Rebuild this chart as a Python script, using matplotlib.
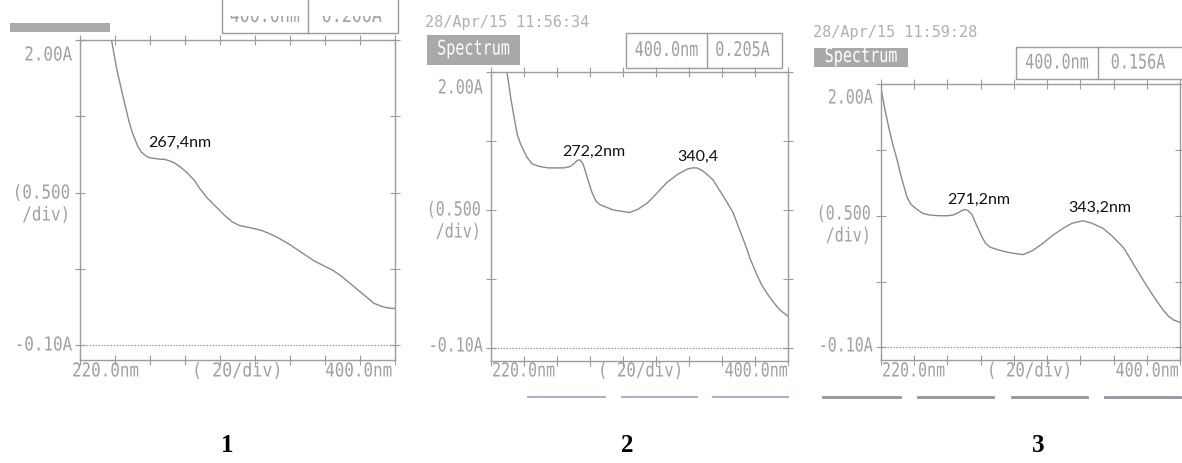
import matplotlib
matplotlib.use("Agg")
import matplotlib.pyplot as plt
from matplotlib.patches import Rectangle
from matplotlib.transforms import Bbox, Affine2D
from matplotlib.lines import Line2D
from matplotlib.text import Text
from matplotlib.patheffects import AbstractPathEffect

W, H = 1182, 463

# ---------------- data ----------------
wl1 = [234, 238, 241, 244.6, 248, 250, 253, 255, 258, 260, 263, 266, 268, 271, 274, 277, 281,
       285, 289, 293, 298, 303, 307, 311, 315, 319, 324, 329, 334, 339, 344, 349, 354, 359,
       364, 369, 374, 379, 384, 388, 392, 395, 398, 400]
abs1 = [2.25, 2.0, 1.80, 1.61, 1.44, 1.36, 1.27, 1.23, 1.20, 1.19, 1.185, 1.18, 1.18, 1.17,
        1.155, 1.13, 1.09, 1.04, 0.97, 0.91, 0.85, 0.79, 0.75, 0.725, 0.715, 0.705, 0.69,
        0.665, 0.635, 0.60, 0.56, 0.52, 0.48, 0.45, 0.42, 0.38, 0.33, 0.28, 0.23, 0.19, 0.17,
        0.16, 0.155, 0.155]

wl2 = [226, 229.7, 232, 234.5, 236, 238, 241.8, 245, 249.7, 255, 260, 264, 267.9, 270, 272.7,
       274, 275.8, 278, 281, 283.5, 286, 290, 294, 299, 304, 309, 314.5, 320, 326.7, 333,
       338.8, 342, 344.8, 348, 351, 354.5, 358, 362, 366.7, 370, 374, 377, 381, 384, 387,
       391, 395, 398, 400]
abs2 = [2.3, 2.0, 1.80, 1.62, 1.52, 1.45, 1.35, 1.30, 1.28, 1.27, 1.27, 1.27, 1.28, 1.30, 1.33,
        1.33, 1.30, 1.21, 1.09, 1.02, 0.99, 0.97, 0.95, 0.94, 0.93, 0.955, 1.00, 1.07, 1.16,
        1.22, 1.26, 1.27, 1.27, 1.25, 1.22, 1.18, 1.11, 1.03, 0.93, 0.82, 0.69, 0.58, 0.46,
        0.38, 0.32, 0.25, 0.19, 0.16, 0.14]

wl3 = [220, 222, 225.4, 227.5, 229.6, 232, 235.6, 238, 241.7, 245, 249.5, 255, 260, 263.3,
       266, 268.5, 270.6, 272.5, 274.8, 277, 280.8, 283, 285.6, 290, 295.9, 300, 305.5, 311,
       317.5, 323, 329.6, 335, 341.6, 347, 353.6, 359, 365.7, 370, 374, 377.7, 382, 386,
       389.8, 393, 396, 400]
abs3 = [1.97, 1.82, 1.61, 1.50, 1.40, 1.27, 1.10, 1.04, 1.00, 0.97, 0.955, 0.95, 0.95, 0.955,
        0.97, 0.99, 1.00, 0.99, 0.96, 0.89, 0.78, 0.73, 0.70, 0.68, 0.66, 0.65, 0.64, 0.67,
        0.73, 0.79, 0.85, 0.89, 0.91, 0.89, 0.85, 0.79, 0.70, 0.61, 0.52, 0.44, 0.35, 0.27,
        0.20, 0.15, 0.12, 0.10]

peak_labels = [["267,4nm"], ["272,2nm", "340,4"], ["271,2nm", "343,2nm"]]
peak_label_pos = [[(258.9, 1.29)], [(263.0, 1.39), (332.7, 1.35)], [(259.7, 1.08), (332.6, 1.01)]]
dates = [None, "28/Apr/15 11:56:34", "28/Apr/15 11:59:28"]
end_values = ["0.200A", "0.205A", "0.156A"]
panel_numbers = ["1", "2", "3"]

x_min, x_max, x_step = 220, 400, 20
y_min_lbl, y_max_lbl = -0.10, 2.00

# ---------------- style ----------------
GRAY_TXT = "#a0a0a0"
GRAY_AX = "#9c9c9c"
GRAY_LINE = "#8a8a8a"
MONO = "DejaVu Sans Mono"


class HSqueeze(AbstractPathEffect):
    """Narrows glyphs horizontally about a fixed x (display px)."""
    def __init__(self, x0, sx):
        super().__init__()
        self.x0 = x0
        self.sx = sx

    def draw_path(self, renderer, gc, tpath, affine, rgbFace=None):
        aff = affine + Affine2D().translate(-self.x0, 0).scale(self.sx, 1).translate(self.x0, 0)
        renderer.draw_path(gc, tpath, aff, rgbFace)


class NarrowText(Text):
    """Text drawn horizontally condensed; reports its condensed extent."""
    def __init__(self, *args, sq_x0=0.0, sq_sx=1.0, **kwargs):
        super().__init__(*args, **kwargs)
        self._sq_x0 = sq_x0
        self._sq_sx = sq_sx
        self.set_path_effects([HSqueeze(sq_x0, sq_sx)])

    def get_window_extent(self, renderer=None, dpi=None):
        bb = super().get_window_extent(renderer, dpi)
        x0, s = self._sq_x0, self._sq_sx
        return Bbox.from_extents(x0 + (bb.x0 - x0) * s, bb.y0, x0 + (bb.x1 - x0) * s, bb.y1)


fig = plt.figure(figsize=(W / 100, H / 100), dpi=100)
fig.patch.set_facecolor("white")


def fx(x):
    return x / W


def fy(y):
    return 1 - y / H


def itext(x, y, s, ha="left", va="center", fs=14, sx=0.77, color=GRAY_TXT, clip=None):
    t = NarrowText(fx(x), fy(y), s, ha=ha, va=va, fontsize=fs, family=MONO, color=color,
                   sq_x0=x, sq_sx=sx)
    t.set_figure(fig)
    t.set_transform(fig.transFigure)
    fig.texts.append(t)
    if clip is not None:
        t.set_clip_box(clip)
        t.set_clip_on(True)
    return t


# axes boxes in pixel coords: left, right, top, bottom
boxes = [(80, 395, 40, 360), (491, 788, 72, 361), (881, 1180, 84, 360)]
series = [(wl1, abs1), (wl2, abs2), (wl3, abs3)]
lab_fs = [13.8, 14.0, 14.0]
lab_sx = [0.83, 0.77, 0.77]
ylab_y = [(55, 193, 215, 345), (88, 210, 232, 346), (98, 214, 236, 346)]
xlab_x = [(72, 192, 392), (492, 598, 788), (882, 987, 1179)]

for i, ((l, r, t, b), (wl, ab)) in enumerate(zip(boxes, series)):
    ax = fig.add_axes([fx(l), fy(b), (r - l) / W, (b - t) / H])
    ax.plot(wl, ab, color=GRAY_LINE, lw=1.0)
    ax.set_xlim(x_min, x_max)
    ax.set_ylim(-0.20, y_max_lbl)
    ax.axhline(y_min_lbl, color=GRAY_AX, lw=0.9, ls=(0, (1.2, 1.2)))
    ax.set_xticks(range(x_min, x_max + 1, x_step))
    yt = [y_min_lbl + k * (y_max_lbl - y_min_lbl) / 4 for k in range(5)]
    ax.set_yticks(yt)
    ax.tick_params(axis="both", which="both", direction="inout", length=7, width=0.8,
                   color=GRAY_AX, labelleft=False, labelbottom=False,
                   top=True, right=True, bottom=True, left=True)
    for s in ax.spines.values():
        s.set_color(GRAY_AX)
        s.set_linewidth(1.0)
    for txt, (px, py) in zip(peak_labels[i], peak_label_pos[i]):
        ax.text(px, py, txt, fontsize=11.5, family="Lato", color="#111111",
                ha="left", va="center")

    fs, sx = lab_fs[i], lab_sx[i]
    y_top, y_a, y_b, y_bot = ylab_y[i]
    itext(l - 8, y_top, "2.00A", ha="right", fs=fs, sx=sx)
    itext(l - 10, y_a, "(0.500", ha="right", fs=fs, sx=sx)
    itext(l - 10, y_b, "/div)", ha="right", fs=fs, sx=sx)
    itext(l - 8, y_bot, "-0.10A", ha="right", fs=fs, sx=sx)
    xa, xb, xc = xlab_x[i]
    itext(xa, 371, f"{x_min:.1f}nm", ha="left", fs=fs, sx=sx)
    itext(xb, 371, f"( {x_step}/div)", ha="left", fs=fs, sx=sx * 1.05)
    itext(xc, 371, f"{x_max:.1f}nm", ha="right", fs=fs, sx=sx)

num_x = [227, 627, 1038]
for i in range(3):
    fig.text(fx(num_x[i]), fy(446), panel_numbers[i], ha="center", va="center",
             fontsize=18, family="Liberation Serif", weight="bold", color="black")

# ---------------- headers ----------------
# panel 1 (cut off at the top)
fig.add_artist(Rectangle((fx(10), fy(32)), 100 / W, 9 / H, transform=fig.transFigure,
                         facecolor="#ababab", edgecolor="none"))
fig.add_artist(Rectangle((fx(222), fy(33)), 176 / W, 40 / H, transform=fig.transFigure,
                         facecolor="none", edgecolor=GRAY_AX, lw=1.0))
fig.add_artist(Line2D([fx(308), fx(308)], [fy(33), fy(-5)], transform=fig.transFigure,
                      color=GRAY_AX, lw=1.0))
clip = Bbox.from_extents(0, H - 32, W, H - 16)
itext(265, 16, "400.0nm", ha="center", fs=15, sx=0.8, clip=clip)
itext(352, 16, end_values[0], ha="center", fs=15, sx=0.8, clip=clip)

# panels 2 and 3
hdr = [None,
       dict(date=(425, 22), spec=(427, 520, 35, 65), box=(626, 782, 33, 68), div=707),
       dict(date=(813, 33), spec=(814, 908, 48, 67), box=(1016, 1186, 47, 79), div=1098)]
for i in (1, 2):
    h = hdr[i]
    fig.text(fx(h["date"][0]), fy(h["date"][1]), dates[i], ha="left", va="center",
             fontsize=11, family=MONO, color="#b0b0b0")
    sl, sr, st, sb = h["spec"]
    fig.add_artist(Rectangle((fx(sl), fy(sb)), (sr - sl) / W, (sb - st) / H,
                             transform=fig.transFigure, facecolor="#a9a9a9", edgecolor="none"))
    itext((sl + sr) / 2, (st + sb) / 2 - 1, "Spectrum", ha="center", fs=14.5, sx=0.75,
          color="white")
    bl, br, bt, bb = h["box"]
    fig.add_artist(Rectangle((fx(bl), fy(bb)), (br - bl) / W, (bb - bt) / H,
                             transform=fig.transFigure, facecolor="none", edgecolor=GRAY_AX,
                             lw=1.0))
    fig.add_artist(Line2D([fx(h["div"]), fx(h["div"])], [fy(bb), fy(bt)],
                          transform=fig.transFigure, color=GRAY_AX, lw=1.0))
    itext((bl + h["div"]) / 2, (bt + bb) / 2, "400.0nm", ha="center", fs=14.5, sx=0.75)
    itext((h["div"] + min(br, 1182)) / 2 - 2, (bt + bb) / 2, end_values[i], ha="center",
          fs=14.5, sx=0.75)

# underline segments below panels 2 and 3
segs2 = [(528, 605), (622, 697), (713, 788)]
segs3 = [(823, 900), (918, 993), (1012, 1087), (1105, 1180)]
for a, b_ in segs2:
    fig.add_artist(Line2D([fx(a), fx(b_)], [fy(397), fy(397)], transform=fig.transFigure,
                          color="#a9b6c8", lw=1.5))
for a, b_ in segs3:
    fig.add_artist(Line2D([fx(a), fx(b_)], [fy(397), fy(397)], transform=fig.transFigure,
                          color="#8f96a0", lw=2.0))

fig.savefig("out.png", dpi=100, facecolor="white")
